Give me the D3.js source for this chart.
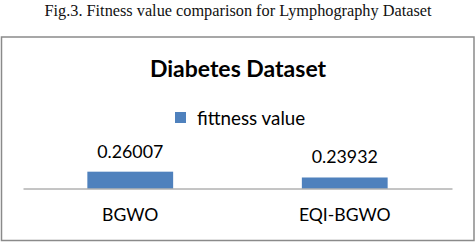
<!DOCTYPE html>
<html lang="en">
<head>
    <meta charset="UTF-8">
    <title>Diabetes Dataset</title>
    <style>
        body { margin: 0; background: #fff; }
    </style>
</head>
<body>
<script src="https://d3js.org/d3.v7.min.js"></script>
<script>
    // chart data
    const categories = ["BGWO", "EQI-BGWO"];
    const fitness = [0.26007, 0.23932];
    const valueLabels = ["0.26007", "0.23932"];
    const seriesName = "fittness value";

    const W = 476, H = 242;
    const svg = d3.select("body").append("svg")
        .attr("width", W)
        .attr("height", H);

    // figure caption above the chart box
    svg.append("text")
        .attr("x", 238)
        .attr("y", 16)
        .attr("text-anchor", "middle")
        .style("font-family", "'Liberation Serif', 'Times New Roman', serif")
        .style("font-size", "16.3px")
        .attr("fill", "#111")
        .text("Fig.3. Fitness value comparison for Lymphography Dataset");

    // chart border
    svg.append("rect")
        .attr("x", 1.5)
        .attr("y", 37)
        .attr("width", 472.5)
        .attr("height", 203.5)
        .attr("fill", "#fff")
        .attr("stroke", "#8a8a8a")
        .attr("stroke-width", 1.5);

    const font = "Lato, 'Open Sans', sans-serif";

    // chart title
    svg.append("text")
        .attr("x", 238)
        .attr("y", 77)
        .attr("text-anchor", "middle")
        .style("font-family", font)
        .style("font-weight", "bold")
        .style("font-size", "23px")
        .attr("fill", "#000")
        .text("Diabetes Dataset");

    // legend
    svg.append("rect")
        .attr("x", 175)
        .attr("y", 112)
        .attr("width", 11)
        .attr("height", 11)
        .attr("fill", "#4f81bd");
    svg.append("text")
        .attr("x", 197)
        .attr("y", 124.5)
        .style("font-family", font)
        .style("font-size", "18.8px")
        .attr("fill", "#000")
        .text(seriesName);

    // scales
    const x = d3.scaleBand()
        .domain(categories)
        .range([23, 452])
        .paddingInner(0.6)
        .paddingOuter(0.3);

    const y = d3.scaleLinear()
        .domain([0.2, 0.3])
        .range([188.5, 160.5]);

    // bars
    svg.selectAll(".bar")
        .data(fitness)
        .enter()
        .append("rect")
        .attr("class", "bar")
        .attr("x", (d, i) => x(categories[i]))
        .attr("y", d => y(d))
        .attr("width", x.bandwidth())
        .attr("height", d => y(0.2) - y(d))
        .attr("fill", "#4f81bd");

    // value labels
    svg.selectAll(".vlabel")
        .data(fitness)
        .enter()
        .append("text")
        .attr("class", "vlabel")
        .attr("x", (d, i) => x(categories[i]) + x.bandwidth() / 2)
        .attr("y", d => y(d) - 14)
        .attr("text-anchor", "middle")
        .style("font-family", font)
        .style("font-size", "17.8px")
        .attr("fill", "#000")
        .text((d, i) => valueLabels[i]);

    // category axis
    const axis = svg.append("g")
        .attr("transform", "translate(0," + y(0.2) + ")")
        .call(d3.axisBottom(x).tickSize(0).tickPadding(20));
    axis.select(".domain").attr("stroke", "#8a8a8a");
    axis.selectAll("text")
        .style("font-family", font)
        .style("font-size", "17.6px")
        .attr("fill", "#000");
</script>
</body>
</html>
